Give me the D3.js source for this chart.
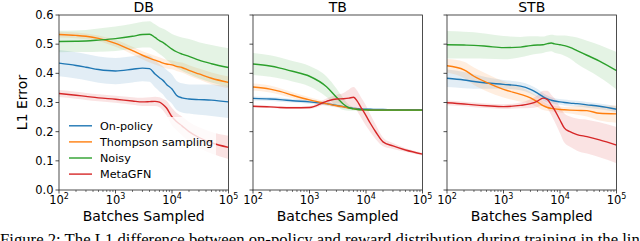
<!DOCTYPE html>
<html><head><meta charset="utf-8">
<script src="https://cdn.jsdelivr.net/npm/d3@7"></script>
<style>
html,body{margin:0;padding:0;background:#fff;overflow:hidden;}
svg{display:block;}
text{font-family:"DejaVu Sans",sans-serif;fill:#000;}
</style></head>
<body>
<svg id="chart" width="640" height="241"></svg>
<script>
// ---------- DATA ----------
const panels = ["DB", "TB", "STB"];
const seriesNames = ["On-policy", "Thompson sampling", "Noisy", "MetaGFN"];
const seriesColors = ["#1f77b4", "#ff7f0e", "#2ca02c", "#d62728"];
const batches = [100, 200, 300, 500, 1000, 2000, 3000, 4000, 5000, 6000, 7000, 8000, 10000, 12000, 15000, 20000, 30000, 50000, 100000];
const yTicks = [0.0, 0.1, 0.2, 0.3, 0.4, 0.5, 0.6];
const xTicks = [100, 1000, 10000, 100000];
const xTickExp = ["2", "3", "4", "5"];

// DB
const dbOnPolicy   = [.435,.427,.421,.413,.408,.414,.418,.416,.398,.385,.375,.362,.346,.325,.316,.312,.310,.308,.302];
const dbOnPolicySd = [.045,.045,.045,.045,.045,.045,.045,.045,.046,.047,.048,.050,.050,.050,.050,.050,.052,.054,.055];
const dbThompson   = [.533,.530,.527,.520,.503,.478,.462,.452,.445,.440,.435,.432,.429,.424,.420,.410,.398,.383,.369];
const dbThompsonSd = [.010,.010,.010,.010,.012,.013,.014,.015,.015,.015,.015,.015,.015,.016,.017,.018,.019,.020,.020];
const dbNoisy      = [.509,.510,.511,.514,.519,.527,.533,.534,.523,.512,.505,.497,.483,.474,.466,.458,.445,.433,.420];
const dbNoisySd    = [.037,.037,.038,.040,.042,.043,.044,.045,.045,.046,.048,.050,.052,.055,.057,.060,.062,.064,.066];
const dbMeta       = [.331,.325,.321,.316,.311,.305,.302,.303,.304,.301,.292,.281,.251,.235,.220,.200,.180,.162,.146];
const dbMetaSd     = [.012,.012,.012,.012,.012,.013,.014,.015,.016,.017,.020,.025,.030,.030,.032,.033,.035,.037,.040];

// TB
const tbOnPolicy   = [.314,.312,.310,.306,.302,.296,.290,.286,.282,.280,.279,.278,.277,.277,.276,.276,.275,.275,.275];
const tbOnPolicySd = [.007,.007,.007,.006,.006,.006,.005,.005,.004,.004,.004,.003,.003,.003,.003,.003,.003,.003,.003];
const tbThompson   = [.353,.346,.338,.325,.309,.296,.289,.285,.281,.279,.277,.276,.275,.274,.274,.274,.274,.274,.274];
const tbThompsonSd = [.012,.012,.011,.010,.009,.007,.006,.005,.004,.004,.003,.003,.003,.003,.003,.003,.003,.003,.003];
const tbNoisy      = [.432,.425,.418,.407,.390,.354,.318,.294,.282,.278,.276,.275,.275,.274,.274,.274,.274,.274,.274];
const tbNoisySd    = [.038,.037,.036,.035,.035,.035,.030,.020,.010,.006,.004,.003,.003,.003,.003,.003,.003,.003,.003];
const tbMeta       = [.287,.285,.283,.282,.283,.304,.312,.313,.315,.318,.305,.286,.255,.228,.198,.165,.151,.137,.123];
const tbMetaSd     = [.004,.004,.004,.004,.005,.010,.015,.020,.030,.035,.035,.035,.035,.030,.025,.015,.010,.006,.005];

// STB
const stbOnPolicy   = [.383,.377,.372,.367,.362,.356,.345,.332,.320,.312,.308,.305,.302,.300,.298,.296,.292,.287,.277];
const stbOnPolicySd = [.030,.028,.025,.020,.015,.014,.014,.014,.013,.012,.010,.010,.010,.010,.010,.010,.010,.010,.010];
const stbThompson   = [.426,.412,.390,.369,.345,.328,.316,.302,.289,.283,.280,.278,.276,.275,.274,.273,.272,.263,.261];
const stbThompsonSd = [.023,.028,.030,.030,.028,.025,.020,.018,.015,.012,.010,.010,.010,.010,.012,.015,.020,.025,.030];
const stbNoisy      = [.498,.497,.496,.493,.488,.490,.495,.497,.498,.502,.504,.501,.498,.495,.489,.478,.462,.442,.409];
const stbNoisySd    = [.047,.046,.045,.043,.040,.035,.032,.030,.028,.028,.028,.030,.032,.035,.038,.045,.050,.055,.064];
const stbMeta       = [.299,.295,.292,.289,.286,.290,.296,.305,.315,.310,.292,.275,.240,.212,.200,.190,.183,.172,.154];
const stbMetaSd     = [.008,.008,.008,.008,.008,.010,.015,.020,.025,.030,.035,.040,.045,.050,.052,.055,.058,.060,.062];

const panelMeans = [
  [dbOnPolicy, dbThompson, dbNoisy, dbMeta],
  [tbOnPolicy, tbThompson, tbNoisy, tbMeta],
  [stbOnPolicy, stbThompson, stbNoisy, stbMeta]
];
const panelSds = [
  [dbOnPolicySd, dbThompsonSd, dbNoisySd, dbMetaSd],
  [tbOnPolicySd, tbThompsonSd, tbNoisySd, tbMetaSd],
  [stbOnPolicySd, stbThompsonSd, stbNoisySd, stbMetaSd]
];

// ---------- LAYOUT ----------
const svg = d3.select("#chart");
const panelLeft = [59, 253, 447];
const panelWidth = 169.5;
const plotTop = 15, plotBottom = 190;

const y = d3.scaleLinear().domain([0, 0.6]).range([plotBottom, plotTop]);

panels.forEach((name, pi) => {
  const x0 = panelLeft[pi];
  const x = d3.scaleLog().domain([100, 100000]).range([x0, x0 + panelWidth]);
  const g = svg.append("g");
  const clipId = "clip" + pi;
  svg.append("clipPath").attr("id", clipId).append("rect")
    .attr("x", x0).attr("y", plotTop).attr("width", panelWidth).attr("height", plotBottom - plotTop);
  const plot = g.append("g").attr("clip-path", `url(#${clipId})`);

  const means = panelMeans[pi], sds = panelSds[pi];
  means.forEach((m, si) => {
    const area = d3.area().curve(d3.curveMonotoneX)
      .x((d, i) => x(batches[i]))
      .y0((d, i) => y(m[i] - sds[si][i]))
      .y1((d, i) => y(m[i] + sds[si][i]));
    plot.append("path").datum(m).attr("d", area)
      .attr("fill", seriesColors[si]).attr("fill-opacity", 0.13).attr("stroke", "none");
  });
  means.forEach((m, si) => {
    const line = d3.line().curve(d3.curveMonotoneX).x((d, i) => x(batches[i])).y(d => y(d));
    plot.append("path").datum(m).attr("d", line)
      .attr("fill", "none").attr("stroke", seriesColors[si]).attr("stroke-width", 1.4)
      .attr("stroke-linejoin", "round");
  });

  // legend (DB panel only)
  if (pi === 0) {
    const lg = g.append("g");
    lg.append("rect").attr("x", 63).attr("y", 117).attr("width", 153).attr("height", 66)
      .attr("fill", "#fff").attr("fill-opacity", 0.8);
    seriesNames.forEach((s, si) => {
      const ly = 125.8 + si * 16.1;
      lg.append("line").attr("x1", 69).attr("x2", 92).attr("y1", ly).attr("y2", ly)
        .attr("stroke", seriesColors[si]).attr("stroke-width", 1.4);
      lg.append("text").attr("x", 100).attr("y", ly).attr("dy", "0.36em")
        .attr("font-size", 11.2).text(s);
    });
  }

  // frame
  g.append("rect").attr("x", x0).attr("y", plotTop).attr("width", panelWidth).attr("height", plotBottom - plotTop)
    .attr("fill", "none").attr("stroke", "#222").attr("stroke-width", 0.8);

  // y ticks
  yTicks.forEach(t => {
    g.append("line").attr("x1", x0 - 3.5).attr("x2", x0).attr("y1", y(t)).attr("y2", y(t))
      .attr("stroke", "#222").attr("stroke-width", 0.8);
    if (pi === 0) {
      g.append("text").attr("x", x0 - 5.5).attr("y", y(t)).attr("dy", "0.36em")
        .attr("text-anchor", "end").attr("font-size", 11.5).text(t.toFixed(1));
    }
  });

  // x minor ticks
  for (let e = 2; e < 5; e++) {
    for (let k = 2; k <= 9; k++) {
      const v = k * Math.pow(10, e);
      g.append("line").attr("x1", x(v)).attr("x2", x(v)).attr("y1", plotBottom).attr("y2", plotBottom + 2)
        .attr("stroke", "#222").attr("stroke-width", 0.6);
    }
  }
  // x major ticks
  xTicks.forEach((t, ti) => {
    g.append("line").attr("x1", x(t)).attr("x2", x(t)).attr("y1", plotBottom).attr("y2", plotBottom + 3.5)
      .attr("stroke", "#222").attr("stroke-width", 0.8);
    const tx = g.append("text").attr("x", x(t)).attr("y", 204).attr("text-anchor", "middle")
      .attr("font-size", 11.5);
    tx.append("tspan").text("10");
    tx.append("tspan").attr("font-size", 8).attr("dy", -4.7).text(xTickExp[ti]);
  });

  // title
  g.append("text").attr("x", x0 + panelWidth / 2).attr("y", 12).attr("text-anchor", "middle")
    .attr("font-size", 14).text(name);
  // x label
  g.append("text").attr("x", x0 + panelWidth / 2).attr("y", 221).attr("text-anchor", "middle")
    .attr("font-size", 14).text("Batches Sampled");
});

// y label
svg.append("text").attr("transform", "translate(27,102.5) rotate(-90)").attr("text-anchor", "middle")
  .attr("font-size", 14).text("L1 Error");

// caption (cut off by the picture bottom, as in the reference)
const cap = svg.append("text").attr("x", 0).attr("y", 245)
  .style("font-family", "'Liberation Serif','Times New Roman',serif")
  .attr("font-size", 14.5)
  .text("Figure 2: The L1 difference between on-policy and reward distribution during training in the line");
const w = cap.node().getComputedTextLength();
const target = 648;
cap.attr("font-size", 14.5 * target / w);
</script>
</body></html>
